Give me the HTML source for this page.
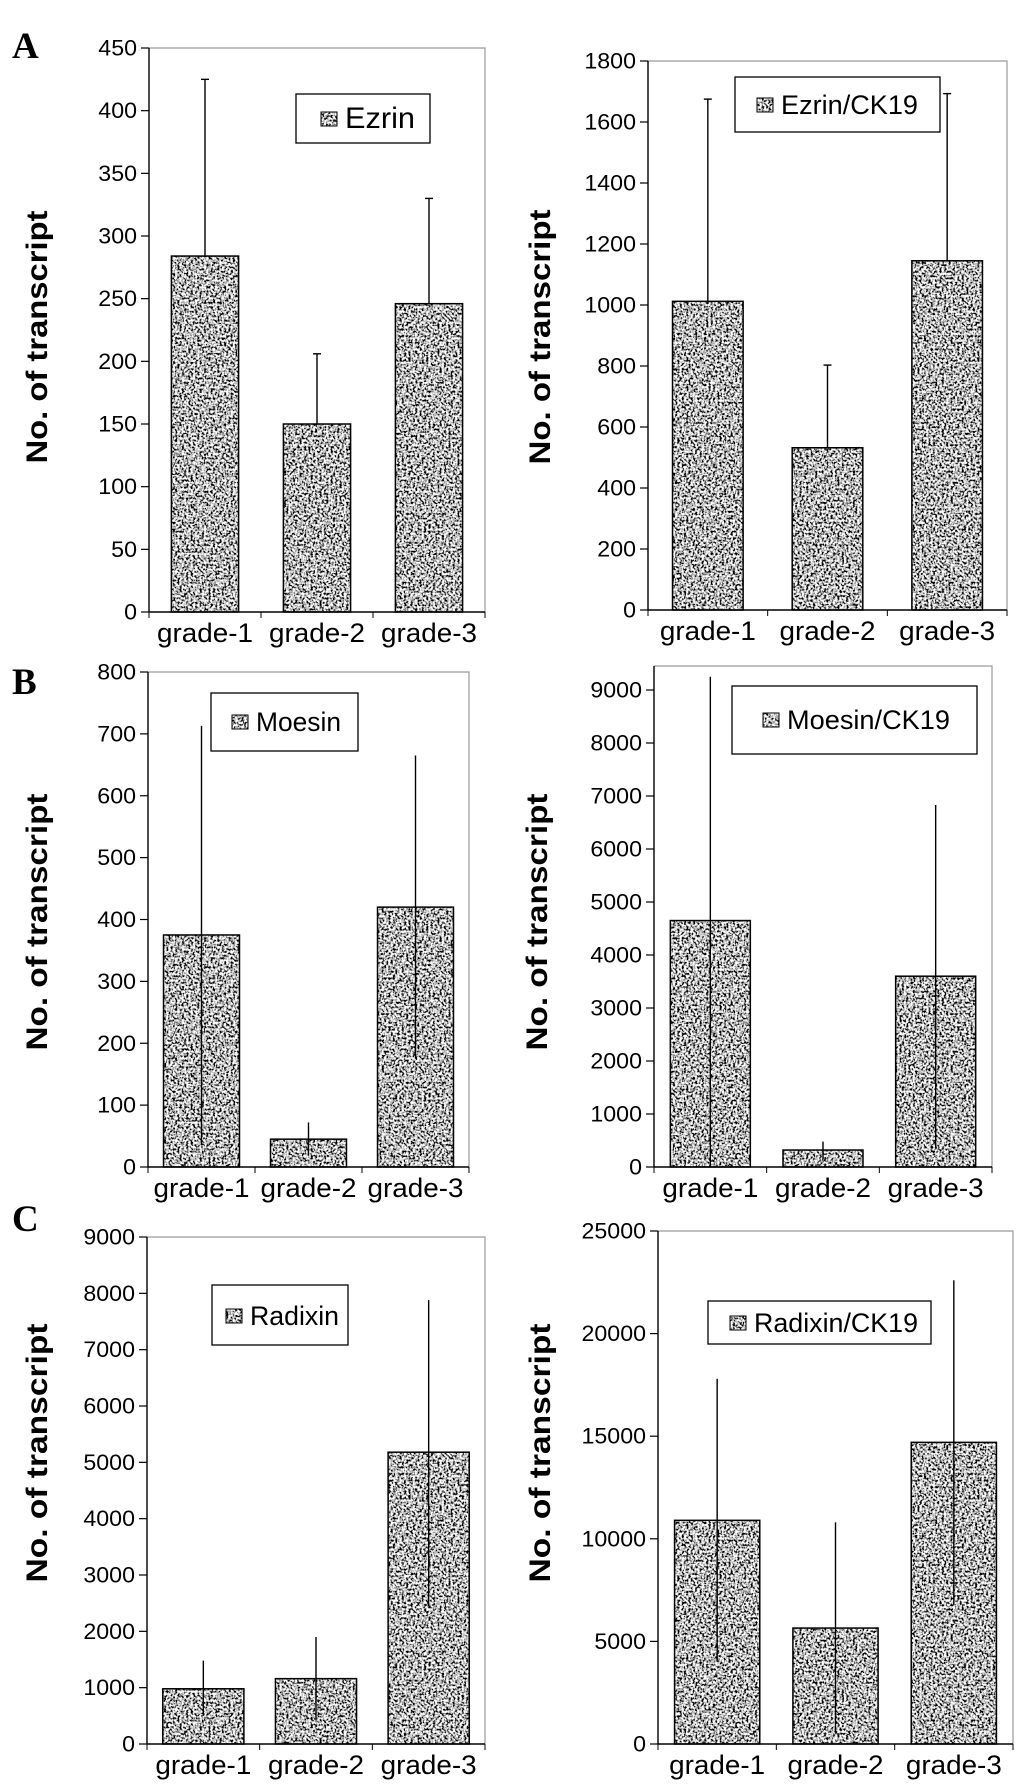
<!DOCTYPE html>
<html><head><meta charset="utf-8"><title>ERM transcripts by grade</title>
<style>
html,body{margin:0;padding:0;background:#fff;}
svg{display:block;}
text{font-family:"Liberation Sans",Arial,sans-serif;fill:#000;}
</style></head>
<body>
<svg id="fig" width="1033" height="1784" viewBox="0 0 1033 1784" xmlns="http://www.w3.org/2000/svg">
<defs>
<filter id="speckle" x="0" y="0" width="100%" height="100%" filterUnits="objectBoundingBox">
<feTurbulence type="fractalNoise" baseFrequency="0.45" numOctaves="2" seed="3" result="n"/>
<feColorMatrix in="n" type="matrix" values="3.6 0 0 0 -1.3  3.6 0 0 0 -1.3  3.6 0 0 0 -1.3  0 0 0 0 1" result="g"/>
<feComposite in="g" in2="SourceGraphic" operator="in"/>
</filter>
</defs>
<text x="12" y="58" font-weight="bold" font-size="37" style="font-family:'Liberation Serif',serif">A</text>
<text x="12" y="694" font-weight="bold" font-size="37" style="font-family:'Liberation Serif',serif">B</text>
<text x="12" y="1231" font-weight="bold" font-size="37" style="font-family:'Liberation Serif',serif">C</text>
</svg>
<script>
// ---- data ----
const categories = ["grade-1", "grade-2", "grade-3"];

const ezrinValues = [284, 150, 246];
const ezrinErrHigh = [425, 206, 330];
const ezrinErrLow = [284, 150, 246];
const ezrinTicks = [0, 50, 100, 150, 200, 250, 300, 350, 400, 450];

const ezrinCk19Values = [1012, 532, 1145];
const ezrinCk19ErrHigh = [1675, 803, 1693];
const ezrinCk19ErrLow = [1012, 532, 1145];
const ezrinCk19Ticks = [0, 200, 400, 600, 800, 1000, 1200, 1400, 1600, 1800];

const moesinValues = [375, 45, 420];
const moesinErrHigh = [713, 72, 665];
const moesinErrLow = [35, 18, 175];
const moesinTicks = [0, 100, 200, 300, 400, 500, 600, 700, 800];

const moesinCk19Values = [4650, 320, 3600];
const moesinCk19ErrHigh = [9250, 480, 6830];
const moesinCk19ErrLow = [0, 140, 350];
const moesinCk19Ticks = [0, 1000, 2000, 3000, 4000, 5000, 6000, 7000, 8000, 9000];

const radixinValues = [980, 1160, 5180];
const radixinErrHigh = [1480, 1900, 7880];
const radixinErrLow = [500, 420, 2450];
const radixinTicks = [0, 1000, 2000, 3000, 4000, 5000, 6000, 7000, 8000, 9000];

const radixinCk19Values = [10900, 5650, 14700];
const radixinCk19ErrHigh = [17800, 10800, 22600];
const radixinCk19ErrLow = [4000, 550, 6800];
const radixinCk19Ticks = [0, 5000, 10000, 15000, 20000, 25000];

// ---- layout ----
const NS = "http://www.w3.org/2000/svg";
const svg = document.getElementById("fig");
function mk(tag, attrs, parent) {
  const e = document.createElementNS(NS, tag);
  for (const k in attrs) e.setAttribute(k, attrs[k]);
  parent.appendChild(e);
  return e;
}

const panels = [
  {id:"ezrin", label:"Ezrin", vals:ezrinValues, hi:ezrinErrHigh, lo:ezrinErrLow, ticks:ezrinTicks, max:450,
   L:149, R:485, T:48, B:612, barFrac:0.6, caps:true,
   leg:[296,94,134,49], legX:345, legBase:128, legLen:70, legFs:30, titleX:37, titleY:337, titleLen:253},
  {id:"ezrin-ck19", label:"Ezrin/CK19", vals:ezrinCk19Values, hi:ezrinCk19ErrHigh, lo:ezrinCk19ErrLow, ticks:ezrinCk19Ticks, max:1800,
   L:648, R:1007, T:61, B:610, barFrac:0.59, caps:true,
   leg:[735,77,205,55], legX:781, legBase:114, legLen:137, legFs:27, titleX:540, titleY:337, titleLen:255},
  {id:"moesin", label:"Moesin", vals:moesinValues, hi:moesinErrHigh, lo:moesinErrLow, ticks:moesinTicks, max:800,
   L:148, R:469, T:672, B:1167, barFrac:0.71, caps:false,
   leg:[211,693,147,58], legX:256, legBase:731, legLen:85, legFs:27, titleX:37, titleY:922, titleLen:257},
  {id:"moesin-ck19", label:"Moesin/CK19", vals:moesinCk19Values, hi:moesinCk19ErrHigh, lo:moesinCk19ErrLow, ticks:moesinCk19Ticks, max:9453,
   L:654, R:992, T:666, B:1167, barFrac:0.71, caps:false,
   leg:[732,686,245,68], legX:787, legBase:729, legLen:163, legFs:27, titleX:537, titleY:922, titleLen:257},
  {id:"radixin", label:"Radixin", vals:radixinValues, hi:radixinErrHigh, lo:radixinErrLow, ticks:radixinTicks, max:9000,
   L:147, R:485, T:1237, B:1744, barFrac:0.72, caps:false,
   leg:[212,1285,136,60], legX:250, legBase:1325, legLen:89, legFs:27, titleX:37, titleY:1453, titleLen:259},
  {id:"radixin-ck19", label:"Radixin/CK19", vals:radixinCk19Values, hi:radixinCk19ErrHigh, lo:radixinCk19ErrLow, ticks:radixinCk19Ticks, max:25000,
   L:658, R:1013, T:1231, B:1744, barFrac:0.72, caps:false,
   leg:[708,1301,223,43], legX:754, legBase:1332, legLen:164, legFs:27, titleX:540, titleY:1453, titleLen:259}
];

panels.forEach(p => {
  const g = mk("g", {}, svg);
  
  
  const y = v => p.B - (v / p.max) * (p.B - p.T);
  const cw = (p.R - p.L) / categories.length;
  const xc = i => p.L + cw * (i + 0.5);

  const fr = mk("path", {d:`M${p.L} ${p.T}H${p.R}V${p.B}`, fill:"none", stroke:"#9a9a9a", "stroke-width":1.2}, g);
  
  

  p.vals.forEach((v, i) => {
    const bw = cw * p.barFrac;
    const x0 = xc(i) - bw / 2, y0 = y(v);
    const fill = mk("rect", {x:x0, y:y0, width:bw, height:p.B - y0, fill:"#000", filter:"url(#speckle)"}, g);
    
    
    const out = mk("rect", {x:x0, y:y0, width:bw, height:p.B - y0, fill:"none", stroke:"#000", "stroke-width":1.5}, g);
    
    
  });

  p.vals.forEach((v, i) => {
    const x = xc(i);
    const e = mk("line", {x1:x, x2:x, y1:y(p.lo[i]), y2:y(p.hi[i]), stroke:"#000", "stroke-width":1.4}, g);
    
    
    if (p.caps) {
      const c = mk("line", {x1:x - 4, x2:x + 4, y1:y(p.hi[i]), y2:y(p.hi[i]), stroke:"#000", "stroke-width":1.4}, g);
      
      
    }
  });

  const ya = mk("line", {x1:p.L, x2:p.L, y1:p.T, y2:p.B, stroke:"#000", "stroke-width":1.4}, g);
  
  
  const xa = mk("line", {x1:p.L, x2:p.R, y1:p.B, y2:p.B, stroke:"#000", "stroke-width":1.4}, g);
  
  

  p.ticks.forEach(t => {
    const ty = y(t);
    const tk = mk("line", {x1:p.L - 8, x2:p.L, y1:ty, y2:ty, stroke:"#000", "stroke-width":1.2}, g);
    
    
    const s = String(t);
    const tl = mk("text", {x:p.L - 12, y:ty + 7.5, "font-size":22, "text-anchor":"end",
      textLength:s.length * 12.9, lengthAdjust:"spacingAndGlyphs"}, g);
    tl.textContent = s;
    
    
  });

  for (let i = 0; i <= categories.length; i++) {
    const x = p.L + cw * i;
    const tk = mk("line", {x1:x, x2:x, y1:p.B, y2:p.B + 6, stroke:"#000", "stroke-width":1}, g);
    
    
  }
  categories.forEach((c, i) => {
    const xl = mk("text", {x:xc(i), y:p.B + 30, "font-size":27, "text-anchor":"middle",
      textLength:96, lengthAdjust:"spacingAndGlyphs"}, g);
    xl.textContent = c;
    
    
  });

  const tt = mk("text", {x:0, y:0, "font-size":30, "font-weight":"bold", "text-anchor":"middle",
    textLength:p.titleLen, lengthAdjust:"spacingAndGlyphs",
    transform:`translate(${p.titleX + 10},${p.titleY}) rotate(-90)`}, g);
  tt.textContent = "No. of transcript";
  
  

  const lg = mk("g", {}, g);
  
  
  const [lx, ly, lw, lh] = p.leg;
  mk("rect", {x:lx, y:ly, width:lw, height:lh, fill:"#fff", stroke:"#000", "stroke-width":1.3}, lg);
  const sy = p.legBase - 16;
  const sw = mk("rect", {x:p.legX - 24, y:sy, width:16, height:14, fill:"#000", filter:"url(#speckle)"}, lg);
  
  
  mk("rect", {x:p.legX - 24, y:sy, width:16, height:14, fill:"none", stroke:"#000", "stroke-width":1}, lg);
  const lt = mk("text", {x:p.legX, y:p.legBase, "font-size":p.legFs, textLength:p.legLen, lengthAdjust:"spacingAndGlyphs"}, lg);
  lt.textContent = p.label;
  
  
});
</script>
</body></html>
